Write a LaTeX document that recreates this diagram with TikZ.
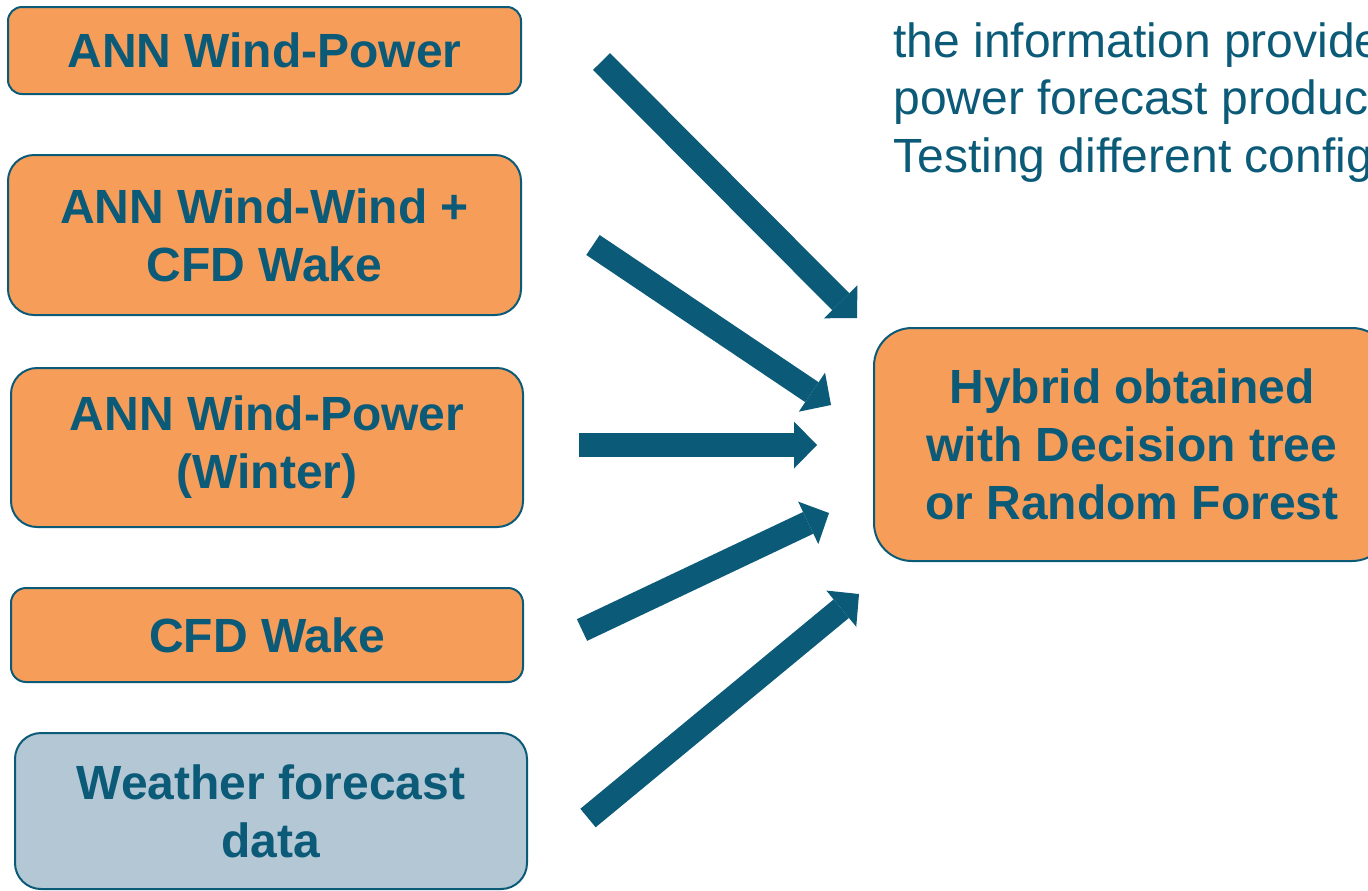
\documentclass[tikz,border=0pt]{standalone}
\usepackage{fontspec}
\setmainfont{Liberation Sans}
\usetikzlibrary{arrows.meta}
\definecolor{tealdark}{RGB}{11,90,120}
\definecolor{boxorange}{RGB}{246,157,90}
\definecolor{boxgrey}{RGB}{180,199,212}
\begin{document}
\begin{tikzpicture}[x=0.5pt,y=-0.5pt,
  box/.style={draw=tealdark, line width=1pt, text=tealdark,
    font=\fontsize{24}{29}\selectfont\bfseries, align=center, inner sep=0pt},
  orangebox/.style={box, fill=boxorange},
  greybox/.style={box, fill=boxgrey},
  fat/.style={draw=tealdark, line width=12pt,
    -{Triangle[length=11.5pt,width=23.5pt,line width=0pt]}},
  para/.style={text=tealdark, font=\fontsize{24}{29}\selectfont,
    anchor=base west, inner sep=0pt}]
\clip (0,0) rectangle (1368,890);
% boxes
\node[orangebox, minimum width=256.5pt, minimum height=43.5pt, rounded corners=7pt]
  (b1) at (264.5,50.5) {ANN Wind-Power};
\node[orangebox, minimum width=256.5pt, minimum height=80pt, rounded corners=13pt]
  (b2) at (264.5,235) {ANN Wind-Wind +\\CFD Wake};
\node[orangebox, minimum width=256pt, minimum height=79.5pt, rounded corners=13pt]
  (b3) at (267,447.5) {ANN Wind-Power\\(Winter)};
\node[orangebox, minimum width=256pt, minimum height=47pt, rounded corners=7.5pt]
  (b4) at (267,635) {CFD Wake};
\node[greybox, minimum width=256pt, minimum height=78pt, rounded corners=13pt]
  (b5) at (271,811) {Weather forecast\\data};
\node[orangebox, minimum width=258pt, minimum height=116.5pt, rounded corners=19pt]
  (hyb) at (1132,444.5) {Hybrid obtained\\with Decision tree\\or Random Forest};
% arrows
\coordinate (t1) at (601.5,61.5); \coordinate (h1) at (857,318);
\coordinate (t2) at (593,245);    \coordinate (h2) at (831,405);
\coordinate (t3) at (579,445);    \coordinate (h3) at (817,445);
\coordinate (t4) at (582,630);    \coordinate (h4) at (829,513);
\coordinate (t5) at (588,818);    \coordinate (h5) at (859,594);
\draw[fat] (t1) -- (h1);
\draw[fat] (t2) -- (h2);
\draw[fat] (t3) -- (h3);
\draw[fat] (t4) -- (h4);
\draw[fat] (t5) -- (h5);
% paragraph text
\node[para] (p1) at (893,57) {the information provide};
\node[para] (p2) at (893,114.5) {power forecast produc};
\node[para] (p3) at (893,172) {Testing different config};
\end{tikzpicture}
\end{document}
